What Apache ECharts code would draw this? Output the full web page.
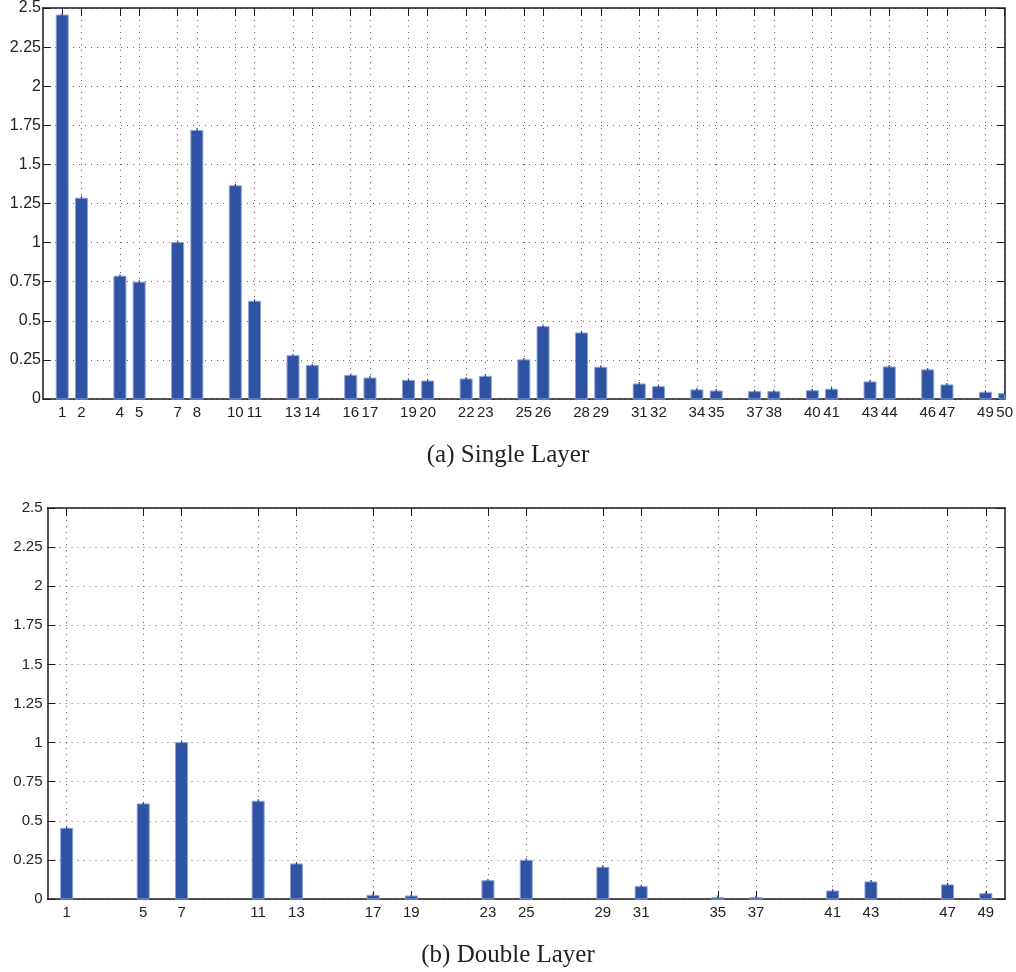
<!DOCTYPE html>
<html>
<head>
<meta charset="utf-8">
<script src="https://cdn.jsdelivr.net/npm/echarts@6/dist/echarts.min.js"></script>
<style>
html,body{margin:0;padding:0;background:#fff;}
#chart{width:1016px;height:972px;}
</style>
</head>
<body>
<div id="chart"></div>
<script>
// ---- data ----
const singleX = [1,2,4,5,7,8,10,11,13,14,16,17,19,20,22,23,25,26,28,29,31,32,34,35,37,38,40,41,43,44,46,47,49,50];
const singleY = [2.455,1.284,0.785,0.747,1.0,1.717,1.363,0.625,0.277,0.213,0.151,0.134,0.119,0.115,0.128,0.145,0.25,0.463,0.422,0.203,0.096,0.079,0.058,0.051,0.047,0.047,0.053,0.062,0.109,0.205,0.186,0.090,0.043,0.034];
const doubleX = [1,5,7,11,13,17,19,23,25,29,31,35,37,41,43,47,49];
const doubleY = [0.452,0.608,1.0,0.625,0.224,0.023,0.019,0.117,0.247,0.203,0.079,0.009,0.009,0.051,0.109,0.090,0.034];
const xTicksTop = singleX;
const xTicksBottom = doubleX;
const captionTop = '(a) Single Layer';
const captionBottom = '(b) Double Layer';

// ---- styles ----
const axisColor = '#1a1a1a';
const gridLine = {show:true, lineStyle:{color:'#666', type:[1,5], width:1}};
const barStyle = {color:'#2f53a2', borderColor:'#8aa2d6', borderWidth:1};
const sansFont = 'Liberation Sans, Arial, sans-serif';

function xAxes(gridIndex, ticks, fontSize){
  return [
    {type:'value', gridIndex, min:0, max:50, position:'bottom',
     axisLine:{show:true, onZero:false, lineStyle:{color:axisColor, width:1.5}},
     axisTick:{show:true, inside:true, length:8, customValues:ticks, lineStyle:{color:axisColor}},
     axisLabel:{show:true, customValues:ticks, margin:6, color:'#222', fontSize, fontFamily:sansFont},
     splitLine:gridLine},
    {type:'value', gridIndex, min:0, max:50, position:'top',
     axisLine:{show:true, onZero:false, lineStyle:{color:axisColor, width:1.5}},
     axisTick:{show:true, inside:true, length:8, customValues:ticks, lineStyle:{color:axisColor}},
     axisLabel:{show:false}, splitLine:{show:false}}
  ];
}
function yAxes(gridIndex, fontSize, margin){
  return [
    {type:'value', gridIndex, min:0, max:2.5, interval:0.25, position:'left',
     axisLine:{show:true, onZero:false, lineStyle:{color:axisColor, width:1.5}},
     axisTick:{show:true, inside:true, length:8, lineStyle:{color:axisColor}},
     axisLabel:{show:true, margin, color:'#222', fontSize, fontFamily:sansFont},
     splitLine:gridLine},
    {type:'value', gridIndex, min:0, max:2.5, interval:0.25, position:'right',
     axisLine:{show:true, onZero:false, lineStyle:{color:axisColor, width:1.5}},
     axisTick:{show:true, inside:true, length:8, lineStyle:{color:axisColor}},
     axisLabel:{show:false}, splitLine:{show:false}}
  ];
}

function renderBar(params, api){
  const x = api.value(0), y = api.value(1);
  const top = api.coord([x, y]);
  const base = api.coord([x, 0]);
  const w = 12;
  const cs = params.coordSys;
  const rect = echarts.graphic.clipRectByRect(
    {x: top[0]-w/2, y: top[1], width: w, height: base[1]-top[1]},
    {x: cs.x, y: cs.y, width: cs.width, height: cs.height});
  if (!rect) return null;
  return {type:'group', children:[
    {type:'rect', shape:rect, style:api.style()},
    {type:'line', shape:{x1:top[0], y1:top[1]-2, x2:top[0], y2:top[1]+1}, style:{stroke:'#2a4a94', lineWidth:1.2}}
  ]};
}

const chart = echarts.init(document.getElementById('chart'), null, {renderer:'canvas'});
chart.setOption({
  backgroundColor:'#fff',
  animation:false,
  title:[
    {text:captionTop, left:'center', top:438, textStyle:{fontFamily:'Liberation Serif, serif', fontWeight:'normal', fontSize:25, color:'#222'}},
    {text:captionBottom, left:'center', top:938, textStyle:{fontFamily:'Liberation Serif, serif', fontWeight:'normal', fontSize:25, color:'#222'}}
  ],
  grid:[
    {left:43, right:11, top:8, height:391},
    {left:47.5, right:11, top:508, height:391}
  ],
  xAxis:[...xAxes(0, xTicksTop, 15), ...xAxes(1, xTicksBottom, 15)],
  yAxis:[...yAxes(0, 16, 2), ...yAxes(1, 15, 5)],
  series:[
    {type:'custom', xAxisIndex:0, yAxisIndex:0, itemStyle:barStyle, renderItem:renderBar,
     encode:{x:0, y:1}, data:singleX.map((x,i)=>[x, singleY[i]])},
    {type:'custom', xAxisIndex:2, yAxisIndex:2, itemStyle:barStyle, renderItem:renderBar,
     encode:{x:0, y:1}, data:doubleX.map((x,i)=>[x, doubleY[i]])}
  ]
});
</script>
</body>
</html>
